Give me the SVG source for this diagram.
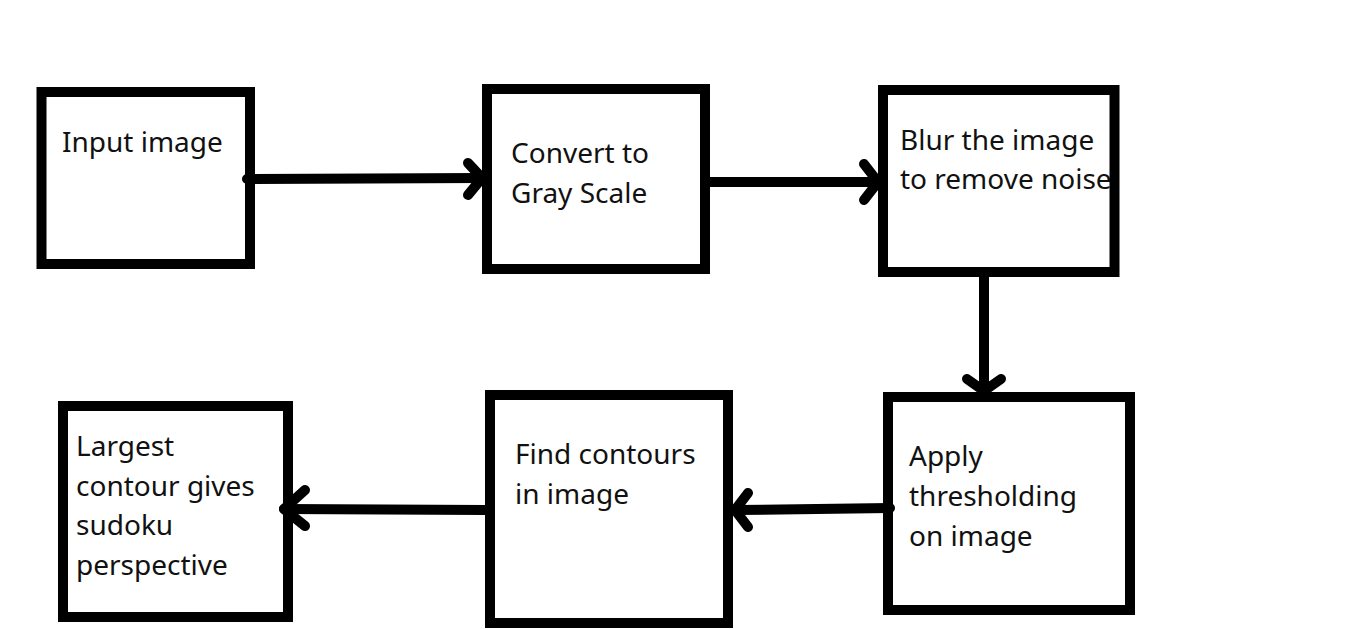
<svg xmlns="http://www.w3.org/2000/svg" width="1350" height="629" viewBox="0 0 1350 629">
<style>
.bg{fill:#ffffff;stroke:none}
.box{fill:none;stroke:#000000;stroke-width:10}
.lbl{font-family:"Noto Sans","Open Sans","DejaVu Sans",sans-serif;font-size:28px;fill:#111111}
.conn{fill:none;stroke:#000000;stroke-width:10;stroke-linecap:round;stroke-linejoin:round}
</style>
<rect x="0" y="0" width="1350" height="629" fill="#ffffff"/>
<g id="node-input">
<rect class="bg" x="41.5" y="92" width="208.5" height="172"/>
<text class="lbl" x="62" y="152">Input image</text>
<rect class="box" x="41.5" y="92" width="208.5" height="172"/>
</g>
<g id="node-gray">
<rect class="bg" x="487" y="89" width="218" height="180"/>
<text class="lbl"><tspan x="511" y="163">Convert to</tspan><tspan x="511" y="203">Gray Scale</tspan></text>
<rect class="box" x="487" y="89" width="218" height="180"/>
</g>
<g id="node-blur">
<rect class="bg" x="883" y="90" width="231.5" height="182"/>
<text class="lbl"><tspan x="900" y="150">Blur the image</tspan><tspan x="900" y="189">to remove noise</tspan></text>
<rect class="box" x="883" y="90" width="231.5" height="182"/>
</g>
<g id="node-threshold">
<rect class="bg" x="888" y="397" width="242" height="213"/>
<text class="lbl"><tspan x="909" y="466">Apply</tspan><tspan x="909" y="506">thresholding</tspan><tspan x="909" y="546">on image</tspan></text>
<rect class="box" x="888" y="397" width="242" height="213"/>
</g>
<g id="node-contours">
<rect class="bg" x="490" y="395" width="238" height="228"/>
<text class="lbl"><tspan x="515" y="464">Find contours</tspan><tspan x="515" y="504">in image</tspan></text>
<rect class="box" x="490" y="395" width="238" height="228"/>
</g>
<g id="node-largest">
<rect class="bg" x="63" y="406" width="225" height="211"/>
<text class="lbl"><tspan x="76" y="456">Largest</tspan><tspan x="76" y="496">contour gives</tspan><tspan x="76" y="535">sudoku</tspan><tspan x="76" y="575">perspective</tspan></text>
<rect class="box" x="63" y="406" width="225" height="211"/>
</g>
<g id="connectors">
<path class="conn" d="M247 179 L482 178"/>
<path class="conn" d="M468 163 L482 178 L468 195"/>
<path class="conn" d="M710 182 L878 182"/>
<path class="conn" d="M864 164 L878 182 L864 200"/>
<path class="conn" d="M984 277 L984 390"/>
<path class="conn" d="M967 379 L984 391 L1001 379"/>
<path class="conn" d="M890 508 L735 510"/>
<path class="conn" d="M748 493 L735 510 L748 527"/>
<path class="conn" d="M486 510 L284 509"/>
<path class="conn" d="M305 490 L284 509 L305 526"/>
</g>
</svg>
